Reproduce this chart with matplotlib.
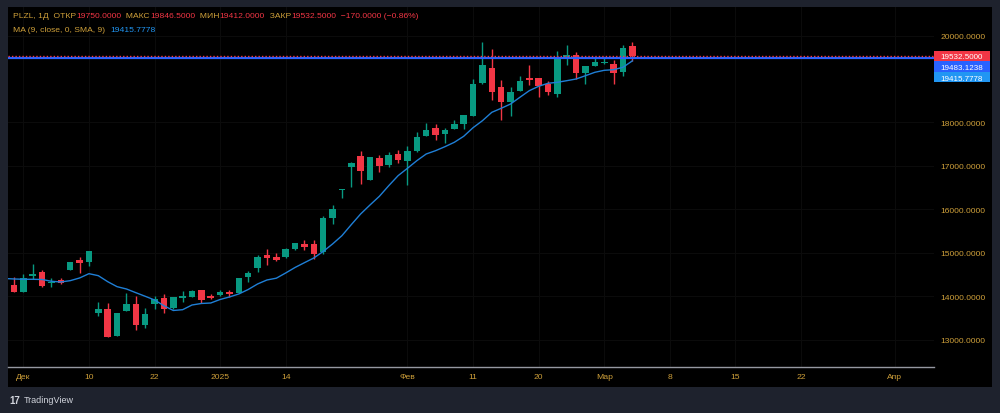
import matplotlib
matplotlib.use("Agg")
from matplotlib import pyplot as plt
from matplotlib.patches import Rectangle
import numpy as np

# daily candles PLZL (reading left to right)
opens = [14340, 14265, 14105, 14472, 14557, 14304, 14373, 14610, 14840, 14780,
         13606, 13705, 13091, 13652, 13820, 13337, 13827, 13952, 13722, 13959,
         13988, 14136, 13998, 14034, 14104, 14074, 14435, 14642, 14941, 14902,
         14902, 15079, 15208, 15208, 15010, 15793, 16437, 16980, 17227, 16681,
         17188, 17013, 17273, 17118, 17335, 17687, 17864, 17740, 17855, 17956,
         18154, 18900, 19259, 18808, 18476, 18723, 19015, 19015, 18877, 18647,
         19489, 19551, 19130, 19291, 19360, 19351, 19160, 19750]
highs = [14360, 14450, 14511, 14741, 14603, 14412, 14419, 14795, 14895, 15045,
         13866, 13836, 13620, 14074, 14004, 13721, 14004, 14051, 13985, 14127,
         14135, 14140, 14051, 14136, 14136, 14420, 14580, 14948, 15079, 14994,
         15110, 15225, 15286, 15286, 15839, 16099, 16460, 17089, 17349, 17210,
         17243, 17312, 17365, 17457, 17772, 17986, 17963, 17864, 18055, 18175,
         18999, 19850, 19689, 18976, 18822, 19068, 19321, 19020, 18960, 19643,
         19781, 19613, 19300, 19475, 19475, 19429, 19781, 19846.5]
lows = [14205, 14090, 14100, 14396, 14205, 14205, 14288, 14600, 14527, 14702,
        13537, 13060, 13085, 13650, 13215, 13261, 13698, 13620, 13715, 13873,
        13980, 13850, 13935, 14011, 13988, 14070, 14327, 14564, 14711, 14820,
        14880, 15070, 15070, 14856, 14978, 15655, 16260, 16513, 16582, 16670,
        16851, 16967, 17072, 16559, 17330, 17680, 17595, 17519, 17850, 17848,
        18140, 18895, 18522, 18062, 18140, 18715, 18861, 18591, 18637, 18591,
        19321, 18999, 18884, 19290, 19351, 18884, 19075, 19412]
closes = [14250, 14105, 14412, 14518, 14235, 14334, 14304, 14787, 14764, 15040,
          13698, 13068, 13613, 13813, 13337, 13590, 13929, 13705, 13975, 14005,
          14127, 13912, 13965, 14104, 14044, 14412, 14541, 14895, 14879, 14826,
          15079, 15217, 15139, 14964, 15800, 16007, 16460, 17072, 16881, 17197,
          16996, 17243, 17141, 17342, 17664, 17825, 17710, 17818, 17970, 18170,
          18877, 19321, 18700, 18476, 18707, 18960, 18983, 18831, 18693, 19505,
          19551, 19137, 19298, 19383, 19390, 19130, 19705, 19532.5]

# MA(9) values
ma9 = [14407, 14396, 14389, 14389, 14384, 14343, 14327, 14357, 14419, 14518,
       14472, 14334, 14219, 14166, 14081, 13998, 13913, 13781, 13671, 13689,
       13797, 13832, 13843, 13924, 13982, 14051, 14154, 14281, 14373, 14414,
       14534, 14661, 14771, 14879, 15029, 15201, 15392, 15646, 15892, 16099,
       16299, 16543, 16774, 16944, 17119, 17273, 17349, 17441, 17542, 17680,
       17878, 18039, 18232, 18324, 18423, 18578, 18730, 18831, 18900, 18923,
       18960, 18999, 19075, 19153, 19199, 19213, 19268, 19415.7778]

hline_price = 19483.1238
last_price = 19532.5

# time axis labels (bar index -> label)
tick_idx = [2, 9, 16, 23, 30, 43, 50, 57, 64, 71, 78, 85, 95]
tick_txt = ["Дек", "10", "22", "2025", "14", "Фев", "11", "20", "Мар", "8", "15", "22", "Апр"]
# 19000 is hidden behind the price boxes on the scale
price_ticks = [13000, 14000, 15000, 16000, 17000, 18000, 20000]

UP = "#089981"
DOWN = "#f23645"
GOLD = "#cfa03a"
MA_COL = "#2196f3"
MA_LINE = "#1f7fd6"
HL_COL = "#2962ff"
FONT = ["Liberation Sans", "DejaVu Sans"]
FS = 6.1

plt.rcParams["font.family"] = FONT

W, H = 1000, 414
fig = plt.figure(figsize=(W / 100, H / 100), dpi=100, facecolor="#1e222d")

# black pane incl. scales
bg = fig.add_axes([8 / W, (H - 388) / H, 984 / W, 380 / H])
bg.set_facecolor("black")
bg.set_xticks([])
bg.set_yticks([])
for s in bg.spines.values():
    s.set_visible(False)

ax = fig.add_axes([8 / W, (H - 368) / H, 926 / W, 360 / H])
ax.set_facecolor("black")

x = np.arange(len(closes))
o = np.array(opens)
c = np.array(closes)
up = c >= o
cols = np.where(up, UP, DOWN)

ax.vlines(x, lows, highs, colors=cols, linewidth=1, zorder=2)
body_lo = np.minimum(o, c)
body_h = np.maximum(np.abs(c - o), 12)
ax.bar(x, body_h, bottom=body_lo, width=0.7, color=cols, linewidth=0, zorder=3)

ax.plot(x, ma9, color=MA_LINE, linewidth=1, zorder=4)
ax.axhline(hline_price, color=HL_COL, linewidth=1.6, zorder=5)
ax.axhline(last_price, color=DOWN, linewidth=1, linestyle=(0, (1, 1.5)), zorder=5)

ax.set_xlim(0.36, 99.2)
ax.set_ylim(12370, 20656)

ax.set_xticks(tick_idx)
ax.set_xticklabels(tick_txt)
ax.set_yticks(price_ticks)
ax.set_yticklabels([f"{p:.4f}" for p in price_ticks])
ax.yaxis.tick_right()
ax.tick_params(axis="both", length=0, colors=GOLD, labelsize=FS)
ax.tick_params(axis="x", pad=4.5)
ax.tick_params(axis="y", pad=4.5)
ax.grid(True, color="#0b0b0b", linewidth=0.8, zorder=0)
for name, s in ax.spines.items():
    s.set_visible(name == "bottom")
ax.spines["bottom"].set_color("#9598a1")
ax.spines["bottom"].set_linewidth(1)

# header legend, drawn in coloured pieces
renderer = fig.canvas.get_renderer()


def line_of_text(x0_px, y_px, parts):
    xp = x0_px
    for txt, col in parts:
        t = fig.text(xp / W, 1 - y_px / H, txt, color=col, fontsize=FS,
                     va="center", ha="left")
        bb = t.get_window_extent(renderer)
        xp += bb.width


line_of_text(13, 17, [("PLZL, 1Д  ОТКР", GOLD), ("19750.0000", DOWN),
                      ("  МАКС", GOLD), ("19846.5000", DOWN),
                      ("  МИН", GOLD), ("19412.0000", DOWN),
                      ("  ЗАКР", GOLD), ("19532.5000", DOWN),
                      ("  −170.0000 (−0.86%)", DOWN)])
line_of_text(13, 30, [("MA (9, close, 0, SMA, 9)  ", GOLD), ("19415.7778", MA_COL)])

# price labels on the scale, stacked so they do not overlap
box_h = 10.6
labels = [(last_price, DOWN, "19532.5000"),
          (hline_price, HL_COL, "19483.1238"),
          (ma9[-1], MA_COL, "19415.7778")]
prev_bottom = None
for val, col, txt in labels:
    yc = ax.transData.transform((0, val))[1]  # display px from bottom
    if prev_bottom is not None:
        yc = min(yc, prev_bottom - box_h / 2)
    prev_bottom = yc - box_h / 2
    fig.patches.append(Rectangle((934 / W, (yc - box_h / 2) / H), 56 / W, box_h / H,
                                 transform=fig.transFigure, facecolor=col,
                                 edgecolor="none", zorder=10))
    fig.text(962 / W, yc / H, txt, color="white", fontsize=5.8, ha="center",
             va="center_baseline", zorder=11)

# watermark bottom left
fig.text(9 / W, 1 - 401 / H, "17", color="#d1d4dc", fontsize=7, fontweight="bold",
         va="center", ha="left")
fig.text(24 / W, 1 - 401 / H, "TradingView", color="#d1d4dc", fontsize=6.5,
         va="center", ha="left")

fig.savefig("out.png", dpi=100, facecolor=fig.get_facecolor())
